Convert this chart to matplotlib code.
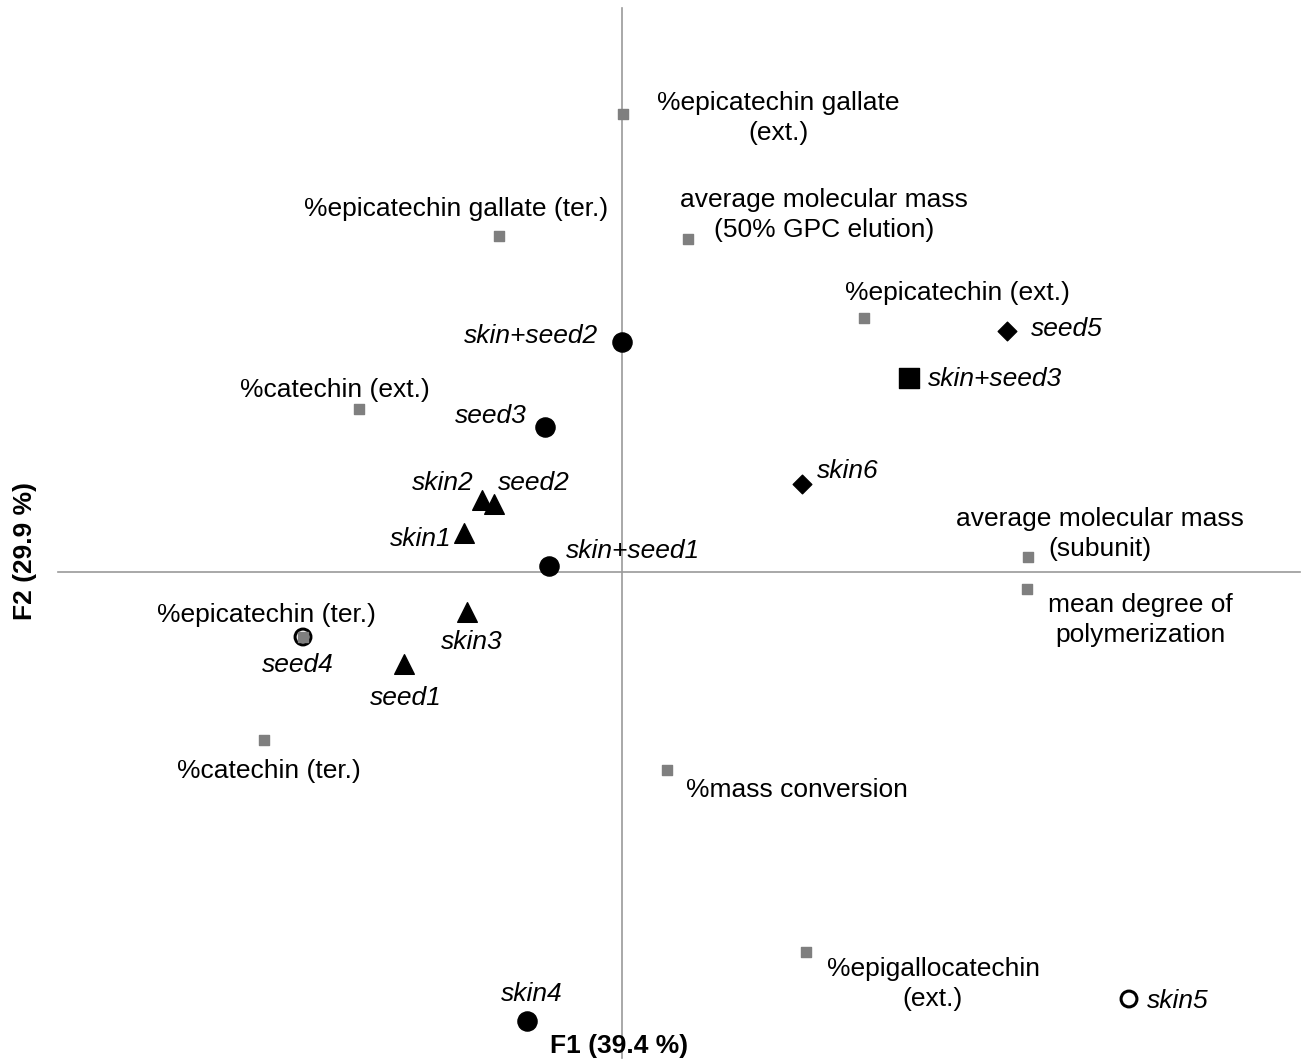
import matplotlib.pyplot as plt

plt.rcParams['font.family'] = ['Liberation Sans', 'DejaVu Sans']

# variable loadings (F1, F2), drawn as small grey squares
var_names = ['%epicatechin gallate\n(ext.)', '%epicatechin gallate (ter.)',
             'average molecular mass\n(50% GPC elution)', '%epicatechin (ext.)',
             '%catechin (ext.)', 'average molecular mass\n(subunit)',
             'mean degree of\npolymerization', '%epicatechin (ter.)',
             '%catechin (ter.)', '%mass conversion',
             '%epigallocatechin\n(ext.)']
var_f1 = [0.01, -1.23, 0.66, 2.42, -2.63, 4.06, 4.05, -3.19, -3.58, 0.45, 1.84]
var_f2 = [4.58, 3.36, 3.33, 2.54, 1.63, 0.15, -0.17, -0.65, -1.68, -1.98, -3.80]

# sample scores
obs_names = ['skin1', 'skin2', 'skin3', 'skin4', 'skin5', 'skin6',
             'seed1', 'seed2', 'seed3', 'seed4', 'seed5',
             'skin+seed1', 'skin+seed2', 'skin+seed3']
obs_f1 = [-1.58, -1.40, -1.55, -0.95, 5.07, 1.80,
          -2.18, -1.28, -0.77, -3.19, 3.85,
          -0.73, 0.00, 2.87]
obs_f2 = [0.39, 0.72, -0.40, -4.49, -4.27, 0.88,
          -0.92, 0.68, 1.45, -0.65, 2.41,
          0.06, 2.30, 1.94]
obs_group = ['tri', 'tri', 'tri', 'dot', 'ring', 'dia',
             'tri', 'tri', 'dot', 'ring', 'dia',
             'dot', 'dot', 'sq']

# marker styles per group
styles = {
    'tri': dict(marker='^', s=200, c='black'),
    'dot': dict(marker='o', s=190, c='black'),
    'ring': dict(marker='o', s=130, facecolors='none', edgecolors='black', linewidths=2.2),
    'dia': dict(marker='D', s=90, c='black'),
    'sq': dict(marker='s', s=200, c='black'),
}

# label offsets in pixels (dx, dy)
var_off = [(155, -4), (-43, 27), (136, 24), (93, 25), (-24, 19), (72, 23),
           (113, -31), (-37, 22), (5, -31), (130, -20), (127, -32)]
obs_off = [(-43, -6), (-39, 17), (5, -30), (5, 27), (49, -2), (46, 13),
           (2, -34), (40, 21), (-54, 11), (-5, -28), (60, 2),
           (84, 15), (-91, 6), (86, -1)]

fig = plt.figure(figsize=(13.1, 10.63), dpi=100)
ax = fig.add_axes([0, 0, 1, 1])
ax.set_xlim(-6.22, 6.88)
ax.set_ylim(-4.91, 5.72)
ax.axis('off')

ax.plot([-5.64, 6.78], [0, 0], color='#9a9a9a', lw=1.2, zorder=1)
ax.plot([0, 0], [-4.86, 5.64], color='#9a9a9a', lw=1.2, zorder=1)

for g in styles:
    xs = [x for x, gg in zip(obs_f1, obs_group) if gg == g]
    ys = [y for y, gg in zip(obs_f2, obs_group) if gg == g]
    ax.scatter(xs, ys, zorder=3, **styles[g])

ax.scatter(var_f1, var_f2, marker='s', s=55, c='#7f7f7f', zorder=4)

fs = 19
for name, x, y, (dx, dy) in zip(var_names, var_f1, var_f2, var_off):
    ax.annotate(name, (x, y), xytext=(dx, dy), textcoords='offset pixels',
                ha='center', va='center', multialignment='center', fontsize=fs,
                linespacing=1.3)
for name, x, y, (dx, dy) in zip(obs_names, obs_f1, obs_f2, obs_off):
    ax.annotate(name, (x, y), xytext=(dx, dy), textcoords='offset pixels',
                ha='center', va='center', fontsize=fs, style='italic')

fig.text(619.5 / 1310, 1 - 1046 / 1063, 'F1 (39.4 %)', fontsize=fs,
         fontweight='bold', ha='center', va='center')
fig.text(25 / 1310, 1 - 551 / 1063, 'F2 (29.9 %)', fontsize=fs,
         fontweight='bold', ha='center', va='center', rotation=90)

fig.savefig('out.png', dpi=100)
